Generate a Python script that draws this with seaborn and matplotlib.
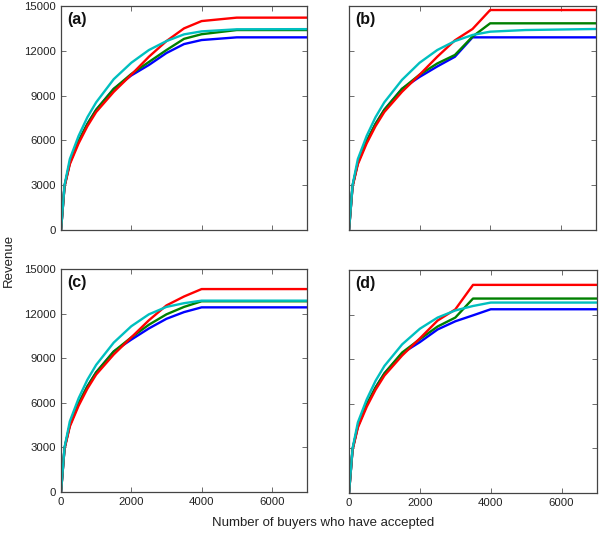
import numpy as np
import pandas as pd
import matplotlib
matplotlib.use("Agg")
import matplotlib.pyplot as plt
import seaborn as sns

# ── data ────────────────────────────────────────────────────
X = [0, 100, 250, 500, 750, 1000, 1500, 2000, 2500, 3000, 3500, 4000, 5000, 7000]

A_BLUE = [0, 2950, 4500, 5950, 7100, 8050, 9450, 10350, 11050, 11850, 12450, 12720, 12900, 12900]
A_GREEN = [0, 2950, 4500, 5950, 7100, 8050, 9450, 10450, 11250, 12050, 12800, 13110, 13390, 13390]
A_RED = [0, 2900, 4400, 5800, 6950, 7900, 9250, 10400, 11600, 12650, 13500, 13990, 14220, 14220]
A_CYAN = [0, 3000, 4750, 6300, 7550, 8550, 10100, 11200, 12050, 12650, 13100, 13300, 13440, 13450]

B_BLUE = [0, 2950, 4500, 5950, 7100, 8050, 9450, 10250, 10950, 11600, 12900, 12900, 12900, 12900]
B_GREEN = [0, 2950, 4500, 5950, 7100, 8050, 9450, 10400, 11150, 11720, 12950, 13840, 13840, 13840]
B_RED = [0, 2900, 4400, 5800, 6950, 7900, 9250, 10400, 11600, 12700, 13460, 14730, 14730, 14730]
B_CYAN = [0, 3000, 4750, 6300, 7550, 8550, 10050, 11200, 12050, 12650, 13060, 13280, 13390, 13460]

C_BLUE = [0, 2950, 4500, 5950, 7100, 8050, 9450, 10250, 11000, 11650, 12100, 12420, 12420, 12420]
C_GREEN = [0, 2950, 4500, 5950, 7100, 8050, 9450, 10400, 11250, 11950, 12450, 12830, 12830, 12830]
C_RED = [0, 2900, 4400, 5800, 6950, 7900, 9250, 10400, 11550, 12550, 13150, 13650, 13650, 13650]
C_CYAN = [0, 3000, 4750, 6300, 7550, 8550, 10050, 11150, 11950, 12450, 12700, 12870, 12870, 12870]

D_BLUE = [0, 2950, 4500, 5950, 7100, 8050, 9400, 10150, 11000, 11550, 11950, 12360, 12360, 12360]
D_GREEN = [0, 2950, 4500, 5950, 7100, 8050, 9450, 10350, 11200, 11800, 13080, 13080, 13080, 13080]
D_RED = [0, 2900, 4400, 5800, 6950, 7900, 9250, 10400, 11600, 12350, 14000, 14000, 14000, 14000]
D_CYAN = [0, 3000, 4750, 6300, 7550, 8550, 10000, 11050, 11800, 12280, 12580, 12810, 12810, 12810]

PANELS = ["(a)", "(b)", "(c)", "(d)"]
SERIES = ["blue", "green", "red", "cyan"]
X_TICKS = [0, 2000, 4000, 6000]
Y_TICKS = [0, 3000, 6000, 9000, 12000, 15000]

COULEURS = {"blue": "#0000ff", "green": "#008000", "red": "#ff0000", "cyan": "#00bfbf"}

valeurs = {
    "(a)": [A_BLUE, A_GREEN, A_RED, A_CYAN],
    "(b)": [B_BLUE, B_GREEN, B_RED, B_CYAN],
    "(c)": [C_BLUE, C_GREEN, C_RED, C_CYAN],
    "(d)": [D_BLUE, D_GREEN, D_RED, D_CYAN],
}

lignes = []
for p in PANELS:
    for s, ys in zip(SERIES, valeurs[p]):
        for x, y in zip(X, ys):
            lignes.append({"panel": p, "serie": s, "x": x, "y": y})
df = pd.DataFrame(lignes)

# ── style ───────────────────────────────────────────────────
sns.set_style("white")
plt.rcParams["font.family"] = ["Liberation Sans", "DejaVu Sans"]

fig = plt.figure(figsize=(6.0, 5.35), dpi=100)

positions = {
    "(a)": [0.1017, 0.5701, 0.410, 0.4187],
    "(b)": [0.5817, 0.5701, 0.4117, 0.4187],
    "(c)": [0.1017, 0.0804, 0.410, 0.4168],
    "(d)": [0.5817, 0.0785, 0.4133, 0.4168],
}

for i, p in enumerate(PANELS):
    ax = fig.add_axes(positions[p])
    sns.lineplot(data=df[df["panel"] == p], x="x", y="y", hue="serie",
                 hue_order=SERIES, palette=COULEURS, estimator=None,
                 linewidth=1.7, legend=False, ax=ax)
    ax.set_xlim(0, 7000)
    ax.set_ylim(0, 15000)
    ax.set_xticks(X_TICKS)
    ax.set_yticks(Y_TICKS)
    ax.set_xlabel("")
    ax.set_ylabel("")
    ax.tick_params(direction="in", length=3.5, width=0.6, colors="#555555",
                   labelcolor="#222222", labelsize=8.2,
                   top=True, right=True, bottom=True, left=True)
    if i < 2:
        ax.tick_params(labelbottom=False)
    if i % 2 == 1:
        ax.tick_params(labelleft=False)
    for sp in ax.spines.values():
        sp.set_color("#444444")
        sp.set_linewidth(0.9)
    ax.text(0.025, 0.94, p, transform=ax.transAxes, fontsize=11.5,
            fontweight="bold", ha="left", va="center", color="#111111")

fig.text(0.014, 0.514, "Revenue", rotation=90, ha="center", va="center",
         fontsize=9.5, color="#222222")
fig.text(0.538, 0.022, "Number of buyers who have accepted", ha="center",
         va="center", fontsize=9.5, color="#222222")

plt.savefig("out.png", dpi=100)
plt.close()
